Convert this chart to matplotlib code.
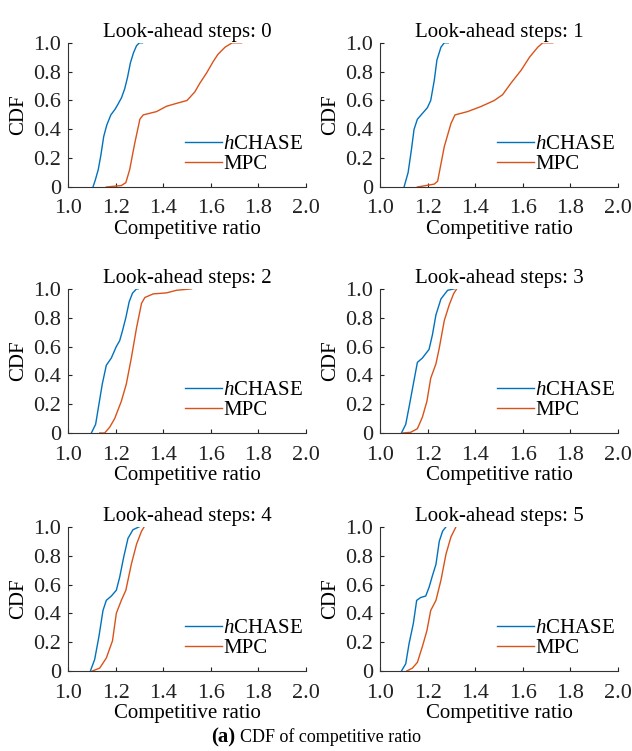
import numpy as np
import matplotlib
matplotlib.use('Agg')
import matplotlib.pyplot as plt

plt.rcParams['font.family'] = ['Liberation Serif', 'DejaVu Serif']
plt.rcParams['mathtext.fontset'] = 'custom'
plt.rcParams['mathtext.rm'] = 'Liberation Serif'
plt.rcParams['mathtext.it'] = 'Liberation Serif:italic'
plt.rcParams['mathtext.bf'] = 'Liberation Serif:bold'

# Datos: (x, CDF) por paso de look-ahead
steps = [0, 1, 2, 3, 4, 5]

hchase_x = [
    [1.105, 1.115, 1.127, 1.138, 1.150, 1.163, 1.180, 1.198, 1.212, 1.225, 1.238, 1.250, 1.262, 1.275, 1.288, 1.300, 1.313],
    [1.101, 1.118, 1.132, 1.143, 1.157, 1.178, 1.199, 1.213, 1.228, 1.239, 1.256, 1.270, 1.287],
    [1.098, 1.116, 1.130, 1.144, 1.161, 1.182, 1.203, 1.217, 1.229, 1.243, 1.257, 1.271, 1.288, 1.295],
    [1.090, 1.108, 1.122, 1.140, 1.157, 1.178, 1.206, 1.220, 1.235, 1.256, 1.284, 1.312],
    [1.094, 1.112, 1.130, 1.147, 1.161, 1.182, 1.203, 1.217, 1.234, 1.252, 1.273, 1.299],
    [1.090, 1.108, 1.122, 1.140, 1.154, 1.171, 1.192, 1.206, 1.220, 1.235, 1.249, 1.263, 1.277],
]
hchase_y = [
    [0, 0.05, 0.12, 0.22, 0.35, 0.43, 0.50, 0.54, 0.58, 0.62, 0.68, 0.76, 0.86, 0.93, 0.98, 1.0, 1.0],
    [0, 0.10, 0.26, 0.40, 0.47, 0.51, 0.55, 0.60, 0.74, 0.88, 0.97, 1.0, 1.0],
    [0, 0.06, 0.20, 0.34, 0.47, 0.52, 0.60, 0.64, 0.71, 0.80, 0.91, 0.97, 1.0, 1.0],
    [0, 0.06, 0.18, 0.34, 0.49, 0.52, 0.58, 0.68, 0.82, 0.93, 0.99, 1.0],
    [0, 0.08, 0.24, 0.42, 0.49, 0.52, 0.56, 0.65, 0.79, 0.92, 0.98, 1.0],
    [0, 0.05, 0.19, 0.33, 0.49, 0.51, 0.52, 0.58, 0.66, 0.74, 0.90, 0.97, 1.0],
]

mpc_x = [
    [1.161, 1.224, 1.243, 1.259, 1.280, 1.302, 1.316, 1.372, 1.414, 1.456, 1.500, 1.533, 1.554, 1.582, 1.610, 1.630, 1.660, 1.690, 1.729],
    [1.157, 1.228, 1.242, 1.270, 1.298, 1.315, 1.368, 1.424, 1.480, 1.515, 1.550, 1.593, 1.628, 1.663, 1.684, 1.726],
    [1.133, 1.154, 1.175, 1.196, 1.224, 1.245, 1.266, 1.288, 1.309, 1.323, 1.358, 1.414, 1.456, 1.519],
    [1.094, 1.129, 1.157, 1.178, 1.197, 1.213, 1.235, 1.249, 1.270, 1.291, 1.309, 1.322],
    [1.102, 1.133, 1.161, 1.187, 1.203, 1.224, 1.243, 1.266, 1.288, 1.309, 1.320],
    [1.112, 1.136, 1.157, 1.178, 1.197, 1.213, 1.235, 1.256, 1.277, 1.298, 1.319],
]
mpc_y = [
    [0, 0.01, 0.03, 0.12, 0.30, 0.47, 0.50, 0.523, 0.56, 0.58, 0.60, 0.66, 0.72, 0.79, 0.87, 0.92, 0.97, 1.0, 1.0],
    [0, 0.02, 0.04, 0.28, 0.44, 0.50, 0.523, 0.558, 0.60, 0.64, 0.72, 0.81, 0.90, 0.97, 1.0, 1.0],
    [0, 0, 0.04, 0.10, 0.22, 0.34, 0.52, 0.73, 0.90, 0.94, 0.965, 0.972, 0.99, 1.0],
    [0, 0.005, 0.03, 0.11, 0.22, 0.38, 0.48, 0.59, 0.78, 0.89, 0.965, 1.0],
    [0, 0.02, 0.09, 0.21, 0.40, 0.49, 0.56, 0.74, 0.88, 0.97, 1.0],
    [0, 0.02, 0.06, 0.17, 0.28, 0.42, 0.49, 0.63, 0.81, 0.93, 1.0],
]

xticklabels = ['1.0', '1.2', '1.4', '1.6', '1.8', '2.0']
yticklabels = ['0', '0.2', '0.4', '0.6', '0.8', '1.0']

c_h = '#0072BD'
c_m = '#D95319'

fig = plt.figure(figsize=(6.32, 7.51), dpi=100)
lefts = [0.1076, 0.6013]
bottoms = [0.751, 0.4234, 0.1065]
w, h = 0.3766, 0.1920

for i, s in enumerate(steps):
    r, c = divmod(i, 2)
    ax = fig.add_axes([lefts[c], bottoms[r], w, h])
    ax.plot(hchase_x[i], hchase_y[i], '-', lw=1.0, color=c_h, label=r'$h$CHASE')
    ax.plot(mpc_x[i], mpc_y[i], '-', lw=1.0, color=c_m, label='MPC')
    ax.set_xlim(1.0, 2.0); ax.set_xticks(np.arange(1.0, 2.01, 0.2))
    ax.set_ylim(0, 1.0); ax.set_yticks(np.arange(0, 1.01, 0.2))
    ax.set_xticklabels(xticklabels)
    ax.set_yticklabels(yticklabels)
    ax.spines['top'].set_visible(False)
    ax.spines['right'].set_visible(False)
    for sp in ['left', 'bottom']:
        ax.spines[sp].set_linewidth(0.8)
        ax.spines[sp].set_color('#333333')
    ax.tick_params(direction='in', length=3, width=0.8, labelsize=16, pad=5, colors='#222222')
    ax.tick_params(axis='x', pad=9)
    ax.set_xlabel('Competitive ratio', fontsize=15, labelpad=1)
    ax.set_ylabel('CDF', fontsize=15, labelpad=4)
    ax.set_title(f'Look-ahead steps: {s}', fontsize=15, pad=4)
    ax.legend(loc='lower left', bbox_to_anchor=(0.49, 0.09), frameon=False, fontsize=15,
              handlelength=1.8, handletextpad=0.05, labelspacing=0.0, borderpad=0,
              borderaxespad=0)

fig.text(0.372, 0.012, '(a)', ha='right', fontsize=15, fontweight='bold')
fig.text(0.380, 0.012, 'CDF of competitive ratio', ha='left', fontsize=13)
fig.savefig('out.png', dpi=100)
